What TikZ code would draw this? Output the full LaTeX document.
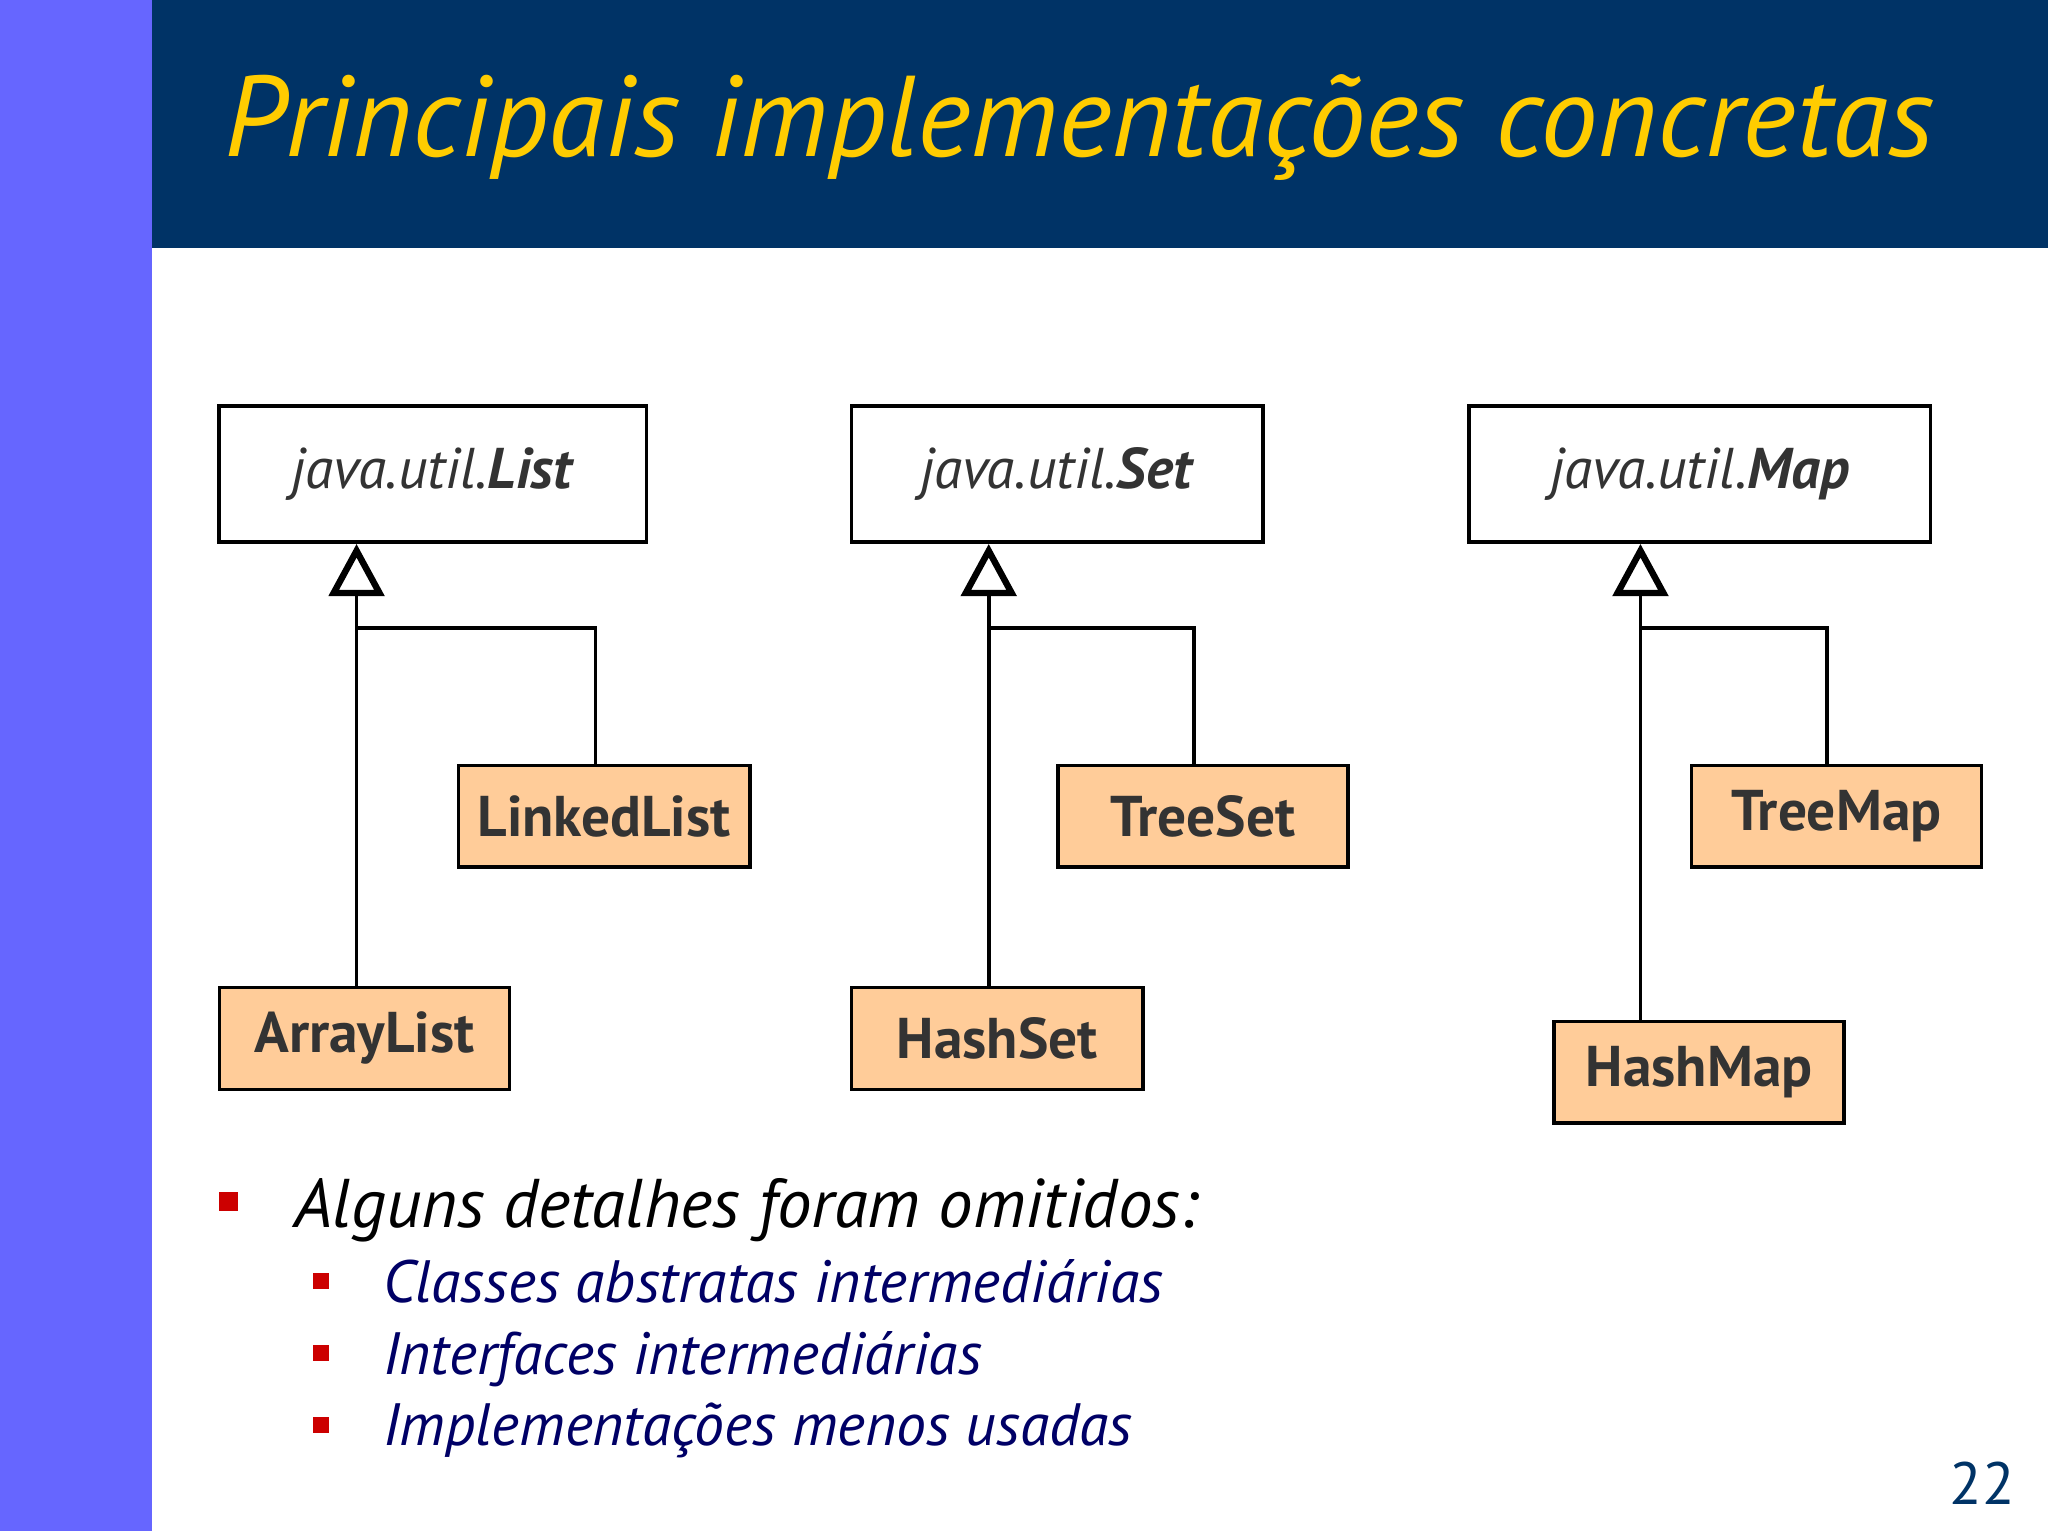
\documentclass[tikz,border=0pt]{standalone}
\usepackage{fontspec}
\setmainfont{PT Sans}
\usetikzlibrary{arrows.meta}
\definecolor{navy}{HTML}{003366}
\definecolor{lbar}{HTML}{6666FF}
\definecolor{peach}{HTML}{FFCC99}
\definecolor{gold}{HTML}{FFCC00}
\definecolor{dtext}{HTML}{333333}
\definecolor{subblue}{HTML}{000066}
\definecolor{bred}{HTML}{CC0000}
\tikzset{
 iface/.style={draw,line width=0.8pt,fill=white,inner sep=0pt,font=\fontsize{12.5}{14}\selectfont\color{dtext}},
 impl/.style={draw,line width=0.8pt,fill=peach,inner sep=0pt,font=\fontsize{12.5}{14}\selectfont\bfseries\color{dtext}},
 conn/.style={line width=0.8pt},
 inh/.style={line width=0.8pt,-{Triangle[open,length=0.4cm,width=0.42cm,line width=1.4pt]}},
 bsq/.style={fill=bred,minimum size=0.14cm,inner sep=0pt}
}
\begin{document}
\begin{tikzpicture}[x=0.01cm,y=-0.01cm]
\useasboundingbox (0,0) rectangle (1568,1172);
\fill[white] (0,0) rectangle (1568,1172);
\fill[lbar] (0,0) rectangle (116,1172);
\fill[navy] (116,0) rectangle (1568,190);
\node[anchor=base east,text=gold,font=\fontsize{25}{30}\selectfont\itshape] (title) at (1493,120) {Principais implementações concretas};
% interfaces
\node[iface,minimum width=3.27cm,minimum height=1.04cm] (list) at (331.5,363) {\textit{java.util.}\textbf{\textit{List}}};
\node[iface,minimum width=3.15cm,minimum height=1.04cm] (set) at (809.5,363) {\textit{java.util.}\textbf{\textit{Set}}};
\node[iface,minimum width=3.53cm,minimum height=1.04cm] (map) at (1301.5,363) {\textit{java.util.}\textbf{\textit{Map}}};
% impls
\node[impl,minimum width=2.23cm,minimum height=0.78cm] (ll) at (462.5,625) {LinkedList};
\node[impl,minimum width=2.22cm,minimum height=0.78cm] (al) at (279,795) {ArrayList};
\node[impl,minimum width=2.22cm,minimum height=0.78cm] (ts) at (921,625) {TreeSet};
\node[impl,minimum width=2.23cm,minimum height=0.78cm] (hs) at (763.5,795) {HashSet};
\node[impl,minimum width=2.22cm,minimum height=0.78cm] (tm) at (1406,625) {TreeMap};
\node[impl,minimum width=2.22cm,minimum height=0.78cm] (hm) at (1301,821) {HashMap};
% connectors
\coordinate (lj) at (273,481);
\coordinate (sj) at (757,481);
\coordinate (mj) at (1256,481);
\draw[inh] (al.north -| lj) -- (list.south -| lj);
\draw[conn] (lj) -- (lj -| 456,0) -- (ll.north -| 456,0);
\draw[inh] (hs.north -| sj) -- (set.south -| sj);
\draw[conn] (sj) -- (sj -| 914,0) -- (ts.north -| 914,0);
\draw[inh] (hm.north -| mj) -- (map.south -| mj);
\draw[conn] (mj) -- (mj -| 1399,0) -- (tm.north -| 1399,0);
% bullets
\node[bsq] (b1) at (175,920) {};
\node[anchor=base west,font=\fontsize{15}{18}\selectfont\itshape] (t1) at (213,940) {Alguns detalhes foram omitidos:};
\node[bsq,minimum size=0.12cm] (b2) at (246,981) {};
\node[anchor=base west,text=subblue,font=\fontsize{13}{16}\selectfont\itshape] (t2) at (281,997) {Classes abstratas intermediárias};
\node[bsq,minimum size=0.12cm] (b3) at (246,1036) {};
\node[anchor=base west,text=subblue,font=\fontsize{13}{16}\selectfont\itshape] (t3) at (281,1052) {Interfaces intermediárias};
\node[bsq,minimum size=0.12cm] (b4) at (246,1091) {};
\node[anchor=base west,text=subblue,font=\fontsize{13}{16}\selectfont\itshape] (t4) at (281,1107) {Implementações menos usadas};
\node[anchor=base east,text=navy,font=\fontsize{13}{16}\selectfont] (pg) at (1555,1152) {22};
\end{tikzpicture}
\end{document}
